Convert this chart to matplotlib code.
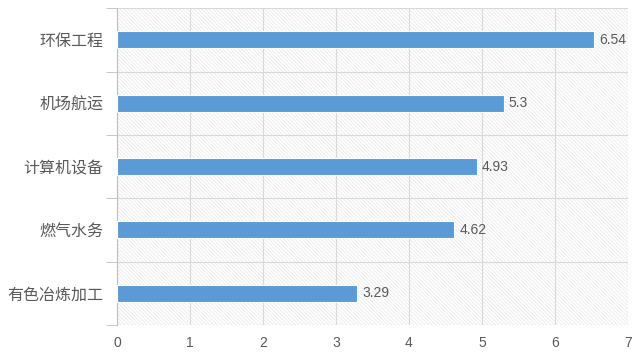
import numpy as np
import matplotlib.pyplot as plt
from matplotlib.patches import Rectangle

plt.rcParams['font.family'] = ['Noto Sans CJK SC', 'DejaVu Sans']
plt.rcParams['hatch.linewidth'] = 0.5

categories = ['有色冶炼加工', '燃气水务', '计算机设备', '机场航运', '环保工程']
values = [3.29, 4.62, 4.93, 5.3, 6.54]
labels = ['3.29', '4.62', '4.93', '5.3', '6.54']

fig = plt.figure(figsize=(6.4, 3.54), dpi=100)
ax = fig.add_axes([0.183, 0.082, 0.798, 0.895])

# hatched background
bg = Rectangle((0, 0), 1, 1, transform=ax.transAxes, facecolor='white',
               edgecolor='#e6e6e6', hatch='\\' * 9, lw=0, zorder=0)
ax.add_patch(bg)

y = np.arange(len(categories))
ax.barh(y, values, height=0.27, color='#5b9bd5', edgecolor='white', lw=0.8, zorder=3)
for yi, v, t in zip(y, values, labels):
    ax.text(v + 0.07, yi, t, va='center', ha='left', fontsize=10,
            color='#595959', family=['Liberation Sans', 'DejaVu Sans'])

ax.set_xlim(0, 7)
ax.set_ylim(-0.5, len(categories) - 0.5)
ax.set_xticks(range(8))
ax.set_yticks(y)
ax.set_yticklabels(categories, fontsize=11.5, color='#595959')
ax.set_yticks(np.arange(-0.5, len(categories), 1), minor=True)
ax.tick_params(axis='y', which='major', length=0, pad=10)
ax.tick_params(axis='y', which='minor', length=8, color='#bfbfbf')
ax.tick_params(axis='x', length=0, pad=8, labelsize=10, labelcolor='#595959')
for lab in ax.get_xticklabels():
    lab.set_family(['Liberation Sans', 'DejaVu Sans'])

ax.grid(axis='x', color='#d9d9d9', lw=0.8, zorder=1)
ax.grid(axis='y', which='minor', color='#d9d9d9', lw=0.8, zorder=1)
ax.set_axisbelow(True)

for s in ['top', 'right', 'bottom']:
    ax.spines[s].set_visible(False)
ax.spines['left'].set_color('#bfbfbf')
ax.spines['left'].set_linewidth(0.8)

fig.savefig('out.png', dpi=100)
